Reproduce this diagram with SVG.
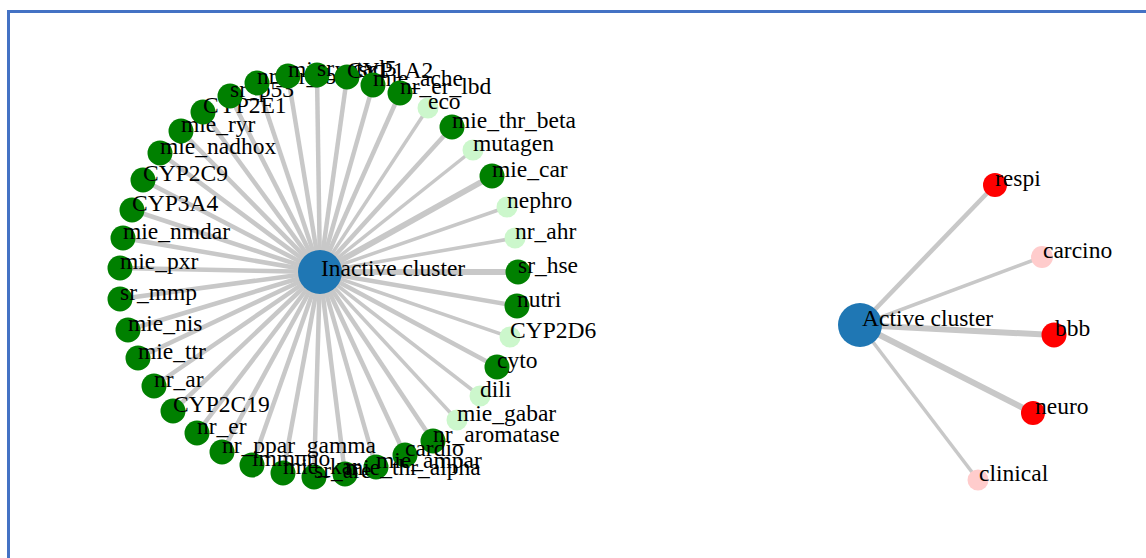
<svg xmlns="http://www.w3.org/2000/svg" width="1146" height="558" viewBox="0 0 1146 558">
<style>
.bg{fill:#ffffff}
.frame{fill:none;stroke:#4472c4;stroke-width:3}
.link{stroke:#c8c8c8;stroke-width:4.5;stroke-linecap:butt}
.thick{stroke-width:6}
.thin{stroke-width:3.5}
.hub{fill:#1f77b4}
.dk{fill:#008000}
.lt{fill:#ccf7cc}
.red{fill:#ff0000}
.pink{fill:#ffcccc}
.lbl text{font-family:'Liberation Serif','Times New Roman',Times,serif;font-size:23.5px;fill:#000}
</style>
<rect class="bg" x="0" y="0" width="1146" height="558"/>
<rect class="frame" x="8.5" y="11.5" width="1200" height="600"/>
<g id="links">
<line class="link" x1="320" y1="272" x2="120" y2="268"/>
<line class="link" x1="320" y1="272" x2="123" y2="238"/>
<line class="link" x1="320" y1="272" x2="132" y2="210"/>
<line class="link" x1="320" y1="272" x2="143" y2="180"/>
<line class="link" x1="320" y1="272" x2="160" y2="153"/>
<line class="link" x1="320" y1="272" x2="181" y2="131"/>
<line class="link" x1="320" y1="272" x2="203" y2="112"/>
<line class="link" x1="320" y1="272" x2="230" y2="96"/>
<line class="link" x1="320" y1="272" x2="257" y2="83"/>
<line class="link" x1="320" y1="272" x2="288" y2="76"/>
<line class="link" x1="320" y1="272" x2="317" y2="75"/>
<line class="link" x1="320" y1="272" x2="347" y2="77"/>
<line class="link" x1="320" y1="272" x2="373" y2="85"/>
<line class="link" x1="320" y1="272" x2="400" y2="93"/>
<line class="link thin" x1="320" y1="272" x2="428" y2="108"/>
<line class="link" x1="320" y1="272" x2="452" y2="127"/>
<line class="link thin" x1="320" y1="272" x2="473" y2="150"/>
<line class="link thick" x1="320" y1="272" x2="492" y2="176"/>
<line class="link thin" x1="320" y1="272" x2="507" y2="207"/>
<line class="link thin" x1="320" y1="272" x2="515" y2="238"/>
<line class="link thick" x1="320" y1="272" x2="518" y2="272"/>
<line class="link" x1="320" y1="272" x2="517" y2="306"/>
<line class="link thin" x1="320" y1="272" x2="510" y2="337"/>
<line class="link" x1="320" y1="272" x2="497" y2="367"/>
<line class="link thin" x1="320" y1="272" x2="480" y2="396"/>
<line class="link thin" x1="320" y1="272" x2="457" y2="420"/>
<line class="link" x1="320" y1="272" x2="433" y2="441"/>
<line class="link" x1="320" y1="272" x2="405" y2="455"/>
<line class="link" x1="320" y1="272" x2="376" y2="467"/>
<line class="link" x1="320" y1="272" x2="345" y2="474"/>
<line class="link" x1="320" y1="272" x2="314" y2="477"/>
<line class="link" x1="320" y1="272" x2="283" y2="473"/>
<line class="link" x1="320" y1="272" x2="252" y2="465"/>
<line class="link" x1="320" y1="272" x2="222" y2="452"/>
<line class="link" x1="320" y1="272" x2="197" y2="433"/>
<line class="link" x1="320" y1="272" x2="173" y2="411"/>
<line class="link" x1="320" y1="272" x2="154" y2="386"/>
<line class="link" x1="320" y1="272" x2="138" y2="358"/>
<line class="link" x1="320" y1="272" x2="128" y2="330"/>
<line class="link" x1="320" y1="272" x2="120" y2="299"/>
<line class="link" x1="860" y1="325" x2="995" y2="185"/>
<line class="link thin" x1="860" y1="325" x2="1042" y2="257"/>
<line class="link thick" x1="860" y1="325" x2="1054" y2="335"/>
<line class="link thick" x1="860" y1="325" x2="1033" y2="413"/>
<line class="link thin" x1="860" y1="325" x2="978" y2="480"/>
</g>
<g class="lbl" font-family="'Liberation Serif','Times New Roman',Times,serif" font-size="23.5">
<g id="n-inactive"><circle class="hub" cx="320" cy="272" r="22"/><text x="321" y="276">Inactive cluster</text></g>
<g id="n-mie_pxr"><circle class="dk" cx="120" cy="268" r="12.5"/><text x="120" y="269">mie_pxr</text></g>
<g id="n-mie_nmdar"><circle class="dk" cx="123" cy="238" r="12.5"/><text x="123" y="239">mie_nmdar</text></g>
<g id="n-CYP3A4"><circle class="dk" cx="132" cy="210" r="12.5"/><text x="132" y="211">CYP3A4</text></g>
<g id="n-CYP2C9"><circle class="dk" cx="143" cy="180" r="12.5"/><text x="143" y="181">CYP2C9</text></g>
<g id="n-mie_nadhox"><circle class="dk" cx="160" cy="153" r="12.5"/><text x="160" y="154">mie_nadhox</text></g>
<g id="n-mie_ryr"><circle class="dk" cx="181" cy="131" r="12.5"/><text x="181" y="132">mie_ryr</text></g>
<g id="n-CYP2E1"><circle class="dk" cx="203" cy="112" r="12.5"/><text x="203" y="113">CYP2E1</text></g>
<g id="n-sr_p53"><circle class="dk" cx="230" cy="96" r="12.5"/><text x="230" y="97">sr_p53</text></g>
<g id="n-nr_ar_lbd"><circle class="dk" cx="257" cy="83" r="12.5"/><text x="257" y="84">nr_ar_lbd</text></g>
<g id="n-mie_vgsc"><circle class="dk" cx="288" cy="76" r="12.5"/><text x="288" y="77">mie_vgsc</text></g>
<g id="n-sr_atad5"><circle class="dk" cx="317" cy="75" r="12.5"/><text x="317" y="76">sr_atad5</text></g>
<g id="n-CYP1A2"><circle class="dk" cx="347" cy="77" r="12.5"/><text x="347" y="78">CYP1A2</text></g>
<g id="n-mie_ache"><circle class="dk" cx="373" cy="85" r="12.5"/><text x="373" y="86">mie_ache</text></g>
<g id="n-nr_er_lbd"><circle class="dk" cx="400" cy="93" r="12.5"/><text x="400" y="94">nr_er_lbd</text></g>
<g id="n-eco"><circle class="lt" cx="428" cy="108" r="10.5"/><text x="428" y="109">eco</text></g>
<g id="n-mie_thr_beta"><circle class="dk" cx="452" cy="127" r="12.5"/><text x="452" y="128">mie_thr_beta</text></g>
<g id="n-mutagen"><circle class="lt" cx="473" cy="150" r="10.5"/><text x="473" y="151">mutagen</text></g>
<g id="n-mie_car"><circle class="dk" cx="492" cy="176" r="12.5"/><text x="492" y="177">mie_car</text></g>
<g id="n-nephro"><circle class="lt" cx="507" cy="207" r="10.5"/><text x="507" y="208">nephro</text></g>
<g id="n-nr_ahr"><circle class="lt" cx="515" cy="238" r="10.5"/><text x="515" y="239">nr_ahr</text></g>
<g id="n-sr_hse"><circle class="dk" cx="518" cy="272" r="12.5"/><text x="518" y="273">sr_hse</text></g>
<g id="n-nutri"><circle class="dk" cx="517" cy="306" r="12.5"/><text x="517" y="307">nutri</text></g>
<g id="n-CYP2D6"><circle class="lt" cx="510" cy="337" r="10.5"/><text x="510" y="338">CYP2D6</text></g>
<g id="n-cyto"><circle class="dk" cx="497" cy="367" r="12.5"/><text x="497" y="368">cyto</text></g>
<g id="n-dili"><circle class="lt" cx="480" cy="396" r="10.5"/><text x="480" y="397">dili</text></g>
<g id="n-mie_gabar"><circle class="lt" cx="457" cy="420" r="10.5"/><text x="457" y="421">mie_gabar</text></g>
<g id="n-nr_aromatase"><circle class="dk" cx="433" cy="441" r="12.5"/><text x="433" y="442">nr_aromatase</text></g>
<g id="n-cardio"><circle class="dk" cx="405" cy="455" r="12.5"/><text x="405" y="456">cardio</text></g>
<g id="n-mie_ampar"><circle class="dk" cx="376" cy="467" r="12.5"/><text x="376" y="468">mie_ampar</text></g>
<g id="n-mie_thr_alpha"><circle class="dk" cx="345" cy="474" r="12.5"/><text x="345" y="475">mie_thr_alpha</text></g>
<g id="n-sr_are"><circle class="dk" cx="314" cy="477" r="12.5"/><text x="314" y="478">sr_are</text></g>
<g id="n-mie_kar"><circle class="dk" cx="283" cy="473" r="12.5"/><text x="283" y="474">mie_kar</text></g>
<g id="n-immuno"><circle class="dk" cx="252" cy="465" r="12.5"/><text x="252" y="466">immuno</text></g>
<g id="n-nr_ppar_gamma"><circle class="dk" cx="222" cy="452" r="12.5"/><text x="222" y="453">nr_ppar_gamma</text></g>
<g id="n-nr_er"><circle class="dk" cx="197" cy="433" r="12.5"/><text x="197" y="434">nr_er</text></g>
<g id="n-CYP2C19"><circle class="dk" cx="173" cy="411" r="12.5"/><text x="173" y="412">CYP2C19</text></g>
<g id="n-nr_ar"><circle class="dk" cx="154" cy="386" r="12.5"/><text x="154" y="387">nr_ar</text></g>
<g id="n-mie_ttr"><circle class="dk" cx="138" cy="358" r="12.5"/><text x="138" y="359">mie_ttr</text></g>
<g id="n-mie_nis"><circle class="dk" cx="128" cy="330" r="12.5"/><text x="128" y="331">mie_nis</text></g>
<g id="n-sr_mmp"><circle class="dk" cx="120" cy="299" r="12.5"/><text x="120" y="300">sr_mmp</text></g>
<g id="n-active"><circle class="hub" cx="860" cy="325" r="22"/><text x="862" y="326">Active cluster</text></g>
<g id="n-respi"><circle class="red" cx="995" cy="185" r="12"/><text x="995" y="186">respi</text></g>
<g id="n-carcino"><circle class="pink" cx="1042" cy="257" r="11"/><text x="1043" y="258">carcino</text></g>
<g id="n-bbb"><circle class="red" cx="1054" cy="335" r="12.5"/><text x="1055" y="336">bbb</text></g>
<g id="n-neuro"><circle class="red" cx="1033" cy="413" r="12"/><text x="1035" y="414">neuro</text></g>
<g id="n-clinical"><circle class="pink" cx="978" cy="480" r="10.5"/><text x="979" y="481">clinical</text></g>
</g>
</svg>
